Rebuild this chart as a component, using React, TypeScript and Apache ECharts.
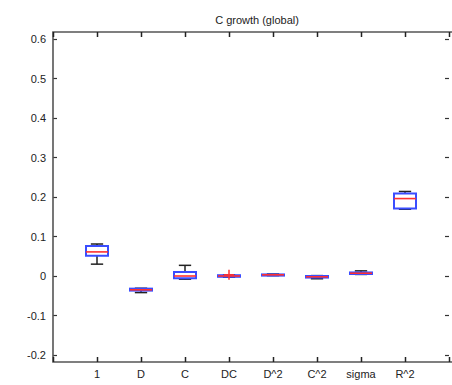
import React, { useEffect, useRef } from "react";
import * as echarts from "echarts";

const categories = ["1", "D", "C", "DC", "D^2", "C^2", "sigma", "R^2"];
const mins = [0.03, -0.042, -0.008, -0.003, 0.001, -0.007, 0.004, 0.169];
const q1s = [0.051, -0.037, -0.006, -0.002, 0.001, -0.004, 0.005, 0.171];
const medians = [0.061, -0.035, 0.0, 0.0, 0.003, -0.002, 0.007, 0.196];
const q3s = [0.076, -0.032, 0.01, 0.002, 0.004, 0.0, 0.009, 0.209];
const maxs = [0.081, -0.031, 0.027, 0.003, 0.005, 0.001, 0.013, 0.214];
const outlierCats = ["DC"];
const outlierValues = [0.003];
const yTicks = [-0.2, -0.1, 0, 0.1, 0.2, 0.3, 0.4, 0.5, 0.6];

const FONT = "Liberation Sans";
const TXT = "#222";

export default function App() {
  const ref = useRef<HTMLDivElement>(null);
  useEffect(() => {
    if (!ref.current) return;
    const chart = echarts.init(ref.current, null, { renderer: "svg" });
    const axisCats = ["", ...categories, ""];
    const boxData = categories.map((c, i) => [i + 1, mins[i], q1s[i], medians[i], q3s[i], maxs[i]]);
    const outData = outlierCats.map((c, i) => [categories.indexOf(c) + 1, outlierValues[i]]);
    const tickData = axisCats.map((c, i) => [i, 0]);
    const tickStyle = { show: true, inside: true, length: 4, lineStyle: { color: "#333", width: 1.2 } };
    chart.setOption({
      animation: false,
      title: {
        text: "C growth (global)",
        left: 252,
        textAlign: "center",
        top: 9,
        textStyle: { fontFamily: FONT, fontSize: 11, fontWeight: "normal", color: TXT },
      },
      grid: { left: 53, top: 39, width: 400, bottom: 30 },
      xAxis: [
        {
          type: "category",
          data: axisCats,
          boundaryGap: false,
          position: "bottom",
          offset: 7,
          axisLine: { show: false, onZero: false },
          axisTick: { show: false },
          axisLabel: { interval: 0, margin: 6, fontFamily: FONT, fontSize: 11, color: TXT },
          splitLine: { show: false },
        },
      ],
      yAxis: [
        {
          type: "value",
          min: yTicks[0],
          max: yTicks[yTicks.length - 1],
          interval: 0.1,
          position: "left",
          axisLine: { show: false, onZero: false },
          axisTick: tickStyle,
          axisLabel: {
            margin: 7,
            fontFamily: FONT,
            fontSize: 11,
            color: TXT,
            formatter: (v: number) => String(Math.round(v * 10) / 10),
          },
          splitLine: { show: false },
        },
        {
          type: "value",
          min: yTicks[0],
          max: yTicks[yTicks.length - 1],
          interval: 0.1,
          position: "right",
          axisLine: { show: false, onZero: false },
          axisTick: tickStyle,
          axisLabel: { show: false },
          splitLine: { show: false },
        },
      ],
      graphic: [
        {
          type: "rect",
          shape: { x: 53, y: 32, width: 400, height: 330 },
          style: { fill: "none", stroke: "#555", lineWidth: 1.6 },
          z: 100,
        },
      ],
      series: [
        {
          type: "custom",
          data: tickData,
          clip: false,
          silent: true,
          z: 110,
          encode: { x: 0, y: 1 },
          renderItem: (params: any, api: any) => {
            const px = Math.round(api.coord([api.value(0), 0])[0]) + 0.5;
            const cs = params.coordSys;
            const yb = cs.y + cs.height + 7;
            const yt = cs.y - 7;
            const st = { stroke: "#222", lineWidth: 1.5 };
            return {
              type: "group",
              children: [
                { type: "line", shape: { x1: px, y1: yb, x2: px, y2: yb - 5 }, style: st },
                { type: "line", shape: { x1: px, y1: yt, x2: px, y2: yt + 5 }, style: st },
              ],
            };
          },
        },
        {
          type: "custom",
          data: boxData,
          encode: { x: 0, y: [1, 2, 3, 4, 5] },
          renderItem: (params: any, api: any) => {
            const x = api.value(0);
            const pMin = api.coord([x, api.value(1)]);
            const pQ1 = api.coord([x, api.value(2)]);
            const pMed = api.coord([x, api.value(3)]);
            const pQ3 = api.coord([x, api.value(4)]);
            const pMax = api.coord([x, api.value(5)]);
            const band = api.size([1, 0])[0];
            const hw = band * 0.25;
            const cw = band * 0.14;
            const cx = pMed[0];
            const black = { stroke: "#222", lineWidth: 1.5 };
            return {
              type: "group",
              children: [
                { type: "line", shape: { x1: cx, y1: pMax[1], x2: cx, y2: pQ3[1] }, style: black },
                { type: "line", shape: { x1: cx, y1: pQ1[1], x2: cx, y2: pMin[1] }, style: black },
                { type: "line", shape: { x1: cx - cw, y1: pMax[1], x2: cx + cw, y2: pMax[1] }, style: black },
                { type: "line", shape: { x1: cx - cw, y1: pMin[1], x2: cx + cw, y2: pMin[1] }, style: black },
                {
                  type: "rect",
                  shape: { x: cx - hw, y: pQ3[1], width: hw * 2, height: Math.max(pQ1[1] - pQ3[1], 0.5) },
                  style: { fill: "none", stroke: "#3a4dff", lineWidth: 2 },
                },
                {
                  type: "line",
                  shape: { x1: cx - hw, y1: pMed[1], x2: cx + hw, y2: pMed[1] },
                  style: { stroke: "#ff3030", lineWidth: 1.6 },
                },
              ],
            };
          },
        },
        {
          type: "custom",
          data: outData,
          encode: { x: 0, y: 1 },
          renderItem: (params: any, api: any) => {
            const p = api.coord([api.value(0), api.value(1)]);
            const s = 5;
            const st = { stroke: "#ff3030", lineWidth: 1.5 };
            return {
              type: "group",
              children: [
                { type: "line", shape: { x1: p[0] - s, y1: p[1], x2: p[0] + s, y2: p[1] }, style: st },
                { type: "line", shape: { x1: p[0], y1: p[1] - s, x2: p[0], y2: p[1] + s }, style: st },
              ],
            };
          },
        },
      ],
    });
    return () => chart.dispose();
  }, []);
  return <div ref={ref} style={{ width: 452, height: 385, position: "absolute", left: 0, top: 0 }} />;
}
